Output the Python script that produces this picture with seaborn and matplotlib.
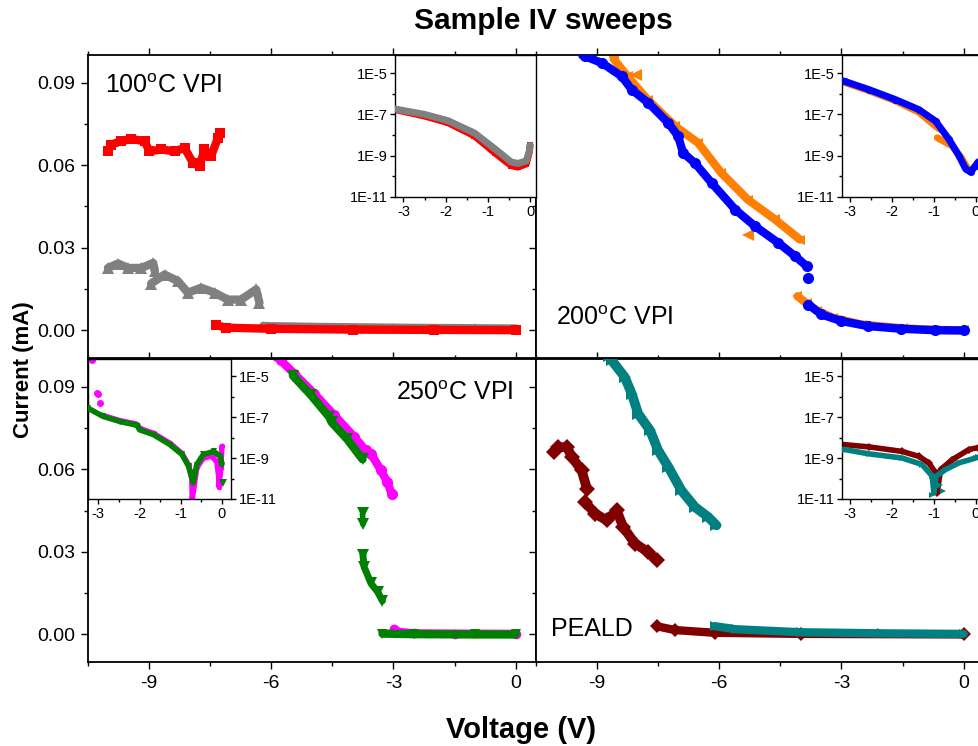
import matplotlib
matplotlib.use("Agg")
import matplotlib.pyplot as plt
from matplotlib.ticker import FixedLocator, FuncFormatter, NullFormatter
import seaborn as sns
import numpy as np
import pandas as pd

# ---------------- 100oC VPI (top left) ----------------
v100_red_hi_v = [-10.01, -9.93, -9.68, -9.44, -9.11, -8.99, -8.70, -8.37, -8.13, -7.92, -7.76, -7.64, -7.48, -7.31, -7.25]
v100_red_hi_i = [0.0650, 0.0675, 0.0687, 0.0695, 0.0687, 0.0650, 0.0657, 0.0650, 0.0663, 0.0608, 0.0596, 0.0657, 0.0632, 0.0699, 0.0717]
v100_red_lo_v = [-7.35, -7.10, -6.0, -4.0, -2.0, 0.0]
v100_red_lo_i = [0.0019, 0.0010, 0.0006, 0.0003, 0.0002, 0.0001]
v100_gray_a_v = [-10.01, -9.76, -9.52, -9.19, -8.90, -8.86]
v100_gray_a_i = [0.0227, 0.0243, 0.0227, 0.0227, 0.0245, 0.0215]
v100_gray_b_v = [-8.95, -8.62, -8.29, -8.05, -7.72, -7.39, -7.07, -6.74, -6.37, -6.29]
v100_gray_b_i = [0.0170, 0.0203, 0.0179, 0.0137, 0.0155, 0.0137, 0.0112, 0.0112, 0.0149, 0.0100]
v100_gray_lo_v = [-6.2, -5.0, -3.0, -1.0, 0.0]
v100_gray_lo_i = [0.0016, 0.0013, 0.0010, 0.0008, 0.0007]
# inset (log)
v100_in_red_v = [-3.25, -2.50, -1.95, -1.32, -0.84, -0.45, -0.29, -0.09, -0.02, 0.0]
v100_in_red_i = [1.8e-7, 8.3e-8, 4.0e-8, 9.1e-9, 1.4e-9, 3.3e-10, 2.8e-10, 4.0e-10, 1.4e-9, 3.2e-9]
v100_in_gray_v = [-3.25, -2.50, -1.95, -1.32, -0.84, -0.45, -0.29, -0.09, -0.02, 0.0]
v100_in_gray_i = [1.9e-7, 1.0e-7, 5.0e-8, 1.26e-8, 2.2e-9, 5.0e-10, 4.2e-10, 5.6e-10, 1.6e-9, 3.2e-9]

# ---------------- 200oC VPI (top right) ----------------
v200_blue_hi_v = [-9.35, -9.29, -8.88, -8.39, -8.15, -7.74, -7.25, -7.01, -6.89, -6.60, -6.19, -5.61, -5.12, -4.55, -4.14, -3.85]
v200_blue_hi_i = [0.1005, 0.0995, 0.0971, 0.0922, 0.0874, 0.0826, 0.0753, 0.0705, 0.0645, 0.0608, 0.0536, 0.0439, 0.0378, 0.0318, 0.0270, 0.0233]
v200_blue_pt_v = [-3.81]
v200_blue_pt_i = [0.0189]
v200_blue_lo_v = [-3.81, -3.49, -3.00, -2.35, -1.53, -0.71, 0.0]
v200_blue_lo_i = [0.0094, 0.0058, 0.0034, 0.0016, 0.0006, 0.0001, 0.0]
v200_orange_hi_v = [-8.62, -8.58, -8.25, -7.76, -7.08, -6.52, -5.95, -5.30, -4.63, -4.02]
v200_orange_hi_i = [0.1005, 0.0983, 0.0922, 0.0838, 0.0741, 0.0681, 0.0572, 0.0475, 0.0403, 0.0330]
v200_orange_out_v = [-8.05, -5.30]
v200_orange_out_i = [0.0929, 0.0348]
v200_orange_lo_v = [-4.08, -3.85, -3.60, -3.20, -2.50, -1.50, -0.70, 0.0]
v200_orange_lo_i = [0.0124, 0.0098, 0.0072, 0.0046, 0.0021, 0.0008, 0.0002, 0.0]
# inset (log)
v200_in_blue_v = [-3.25, -3.14, -2.56, -1.92, -1.36, -0.96, -0.64, -0.40, -0.24, -0.12, 0.0, 0.06]
v200_in_blue_i = [4.5e-6, 4.0e-6, 1.6e-6, 5.2e-7, 1.7e-7, 4.7e-8, 6.2e-9, 1.0e-9, 2.3e-10, 1.6e-10, 3.3e-10, 5.0e-10]
v200_in_orange_a_v = [-3.25, -2.56, -1.92, -1.36, -0.96, -0.86]
v200_in_orange_a_i = [4.2e-6, 1.4e-6, 4.5e-7, 1.26e-7, 2.7e-8, 1.9e-8]
v200_in_orange_b_v = [-0.92, -0.56, -0.32, -0.20, -0.10, 0.07]
v200_in_orange_b_i = [7.4e-9, 2.95e-9, 6.8e-10, 2.5e-10, 2.0e-10, 5.0e-10]

# ---------------- 250oC VPI (bottom left) ----------------
v250_mag_hi_v = [-5.85, -5.77, -5.43, -4.94, -4.45, -3.96, -3.68, -3.55, -3.31, -3.15, -3.04]
v250_mag_hi_i = [0.1010, 0.0995, 0.0946, 0.0874, 0.0795, 0.0717, 0.0668, 0.0656, 0.0596, 0.0553, 0.0509]
v250_mag_lo_v = [-2.98, -2.90, -2.50, -1.50, 0.0]
v250_mag_lo_i = [0.0020, 0.0010, 0.0004, 0.0003, 0.0002]
v250_grn_hi_v = [-5.47, -5.02, -4.58, -4.52, -4.13, -3.76]
v250_grn_hi_i = [0.0940, 0.0868, 0.0790, 0.0771, 0.0708, 0.0636]
v250_grn_mid_v = [-3.76, -3.75]
v250_grn_mid_i = [0.0440, 0.0400]
v250_grn_tail_v = [-3.75, -3.72, -3.55, -3.39, -3.27]
v250_grn_tail_i = [0.0290, 0.0245, 0.0185, 0.0155, 0.0122]
v250_grn_lo_v = [-3.27, -2.50, -1.00, 0.0]
v250_grn_lo_i = [0.0003, 0.0001, 0.0, 0.0]
# inset (log)
v250_in_grn_v = [-3.25, -2.88, -2.47, -2.11, -2.05, -2.00, -1.66, -1.26, -0.97, -0.81, -0.73, -0.70, -0.61, -0.45, -0.20, -0.04, 0.0]
v250_in_grn_i = [2.7e-7, 1.07e-7, 6.0e-8, 4.2e-8, 3.8e-8, 2.4e-8, 1.38e-8, 4.5e-9, 1.5e-9, 4.0e-10, 1.07e-10, 6.3e-11, 4.8e-10, 1.5e-9, 2.1e-9, 1.2e-9, 4.8e-10]
v250_in_grn_out_v = [0.02]
v250_in_grn_out_i = [6.3e-11]
v250_in_mag_v = [-2.90, -2.47, -2.11, -2.05, -2.00, -1.66, -1.26, -0.97, -0.81, -0.73, -0.72, -0.61, -0.45, -0.25, -0.12, -0.08, -0.07, -0.03, 0.0]
v250_in_mag_i = [1.2e-7, 6.6e-8, 4.7e-8, 4.2e-8, 2.8e-8, 1.6e-8, 5.2e-9, 1.66e-9, 4.5e-10, 1.0e-10, 1.0e-11, 3.5e-10, 1.0e-9, 1.26e-9, 6.3e-10, 1.3e-10, 4.0e-11, 3.2e-10, 3.7e-9]
v250_in_mag_out_v = [-3.16, -3.04, -3.00, -2.95]
v250_in_mag_out_i = [6.0e-5, 1.45e-6, 1.3e-6, 4.7e-7]

# ---------------- PEALD (bottom right) ----------------
vpe_mar_a_v = [-10.07, -9.95, -9.74, -9.62, -9.38, -9.25]
vpe_mar_a_i = [0.0662, 0.0680, 0.0680, 0.0644, 0.0596, 0.0529]
vpe_mar_b_v = [-9.30, -9.05, -8.76, -8.52, -8.36, -8.07, -7.75, -7.54]
vpe_mar_b_i = [0.0481, 0.0439, 0.0414, 0.0451, 0.0390, 0.0330, 0.0300, 0.0269]
vpe_mar_lo_v = [-7.54, -7.09, -6.11, -4.00, 0.0]
vpe_mar_lo_i = [0.0030, 0.0016, 0.0006, 0.0002, 0.0]
vpe_teal_hi_v = [-8.70, -8.64, -8.32, -8.15, -7.99, -7.70, -7.50, -7.25, -6.93, -6.60, -6.27, -6.07]
vpe_teal_hi_i = [0.1010, 0.0995, 0.0934, 0.0874, 0.0801, 0.0741, 0.0668, 0.0608, 0.0523, 0.0463, 0.0426, 0.0396]
vpe_teal_lo_v = [-6.11, -5.60, -4.00, -2.00, 0.0]
vpe_teal_lo_i = [0.0030, 0.0019, 0.0008, 0.0004, 0.0002]
# inset (log)
vpe_in_mar_v = [-3.25, -2.56, -1.76, -1.36, -1.12, -0.96, -0.92, -0.84, -0.56, -0.16, 0.05]
vpe_in_mar_i = [4.7e-9, 3.5e-9, 2.1e-9, 1.2e-9, 5.8e-10, 1.9e-10, 2.0e-11, 2.75e-10, 8.3e-10, 2.6e-9, 3.2e-9]
vpe_in_teal_v = [-3.25, -3.14, -2.56, -1.76, -1.28, -1.04, -1.00, -0.95, -0.72, -0.40, 0.0, 0.05]
vpe_in_teal_i = [2.7e-9, 2.6e-9, 1.6e-9, 1.0e-9, 4.8e-10, 1.3e-10, 2.0e-11, 1.26e-10, 2.75e-10, 5.8e-10, 1.0e-9, 1.1e-9]
vpe_in_teal_out_v = [-1.05, -0.92, -0.85, -0.78]
vpe_in_teal_out_i = [1.6e-11, 4.0e-11, 5.0e-11, 2.5e-11]

RED, GRAY, ORANGE, BLUE = "#FF0000", "#808080", "#FF8000", "#0000FF"
MAGENTA, GREEN, MAROON, TEAL = "#FF00FF", "#008000", "#800000", "#008080"

sns.set_style("ticks")
plt.rcParams["font.family"] = ["Liberation Sans", "DejaVu Sans"]
plt.rcParams["mathtext.default"] = "regular"
plt.rcParams["axes.unicode_minus"] = False
plt.rcParams["text.color"] = "black"
plt.rcParams["axes.labelcolor"] = "black"
plt.rcParams["xtick.color"] = "black"
plt.rcParams["ytick.color"] = "black"

W, H = 979, 746
fig = plt.figure(figsize=(W / 100, H / 100), dpi=100)


def px_axes(x0, y0, x1, y1):
    return fig.add_axes([x0 / W, 1 - y1 / H, (x1 - x0) / W, (y1 - y0) / H])


def draw(ax, v, i, color, marker, ms=7, lw=6, z=2):
    df = pd.DataFrame({"V": v, "I": i})
    sns.lineplot(data=df, x="V", y="I", sort=False, estimator=None, color=color,
                 marker=marker, markersize=ms, markeredgewidth=0, linewidth=lw,
                 solid_capstyle="round", ax=ax, zorder=z)


def style_main(ax, left_lab, bottom_lab):
    ax.set_xlim(-10.5, 0.5)
    ax.set_ylim(-0.01, 0.1)
    ax.xaxis.set_major_locator(FixedLocator([-9, -6, -3, 0]))
    ax.xaxis.set_minor_locator(FixedLocator([-10.5, -7.5, -4.5, -1.5]))
    ax.yaxis.set_major_locator(FixedLocator([0, 0.03, 0.06, 0.09]))
    ax.yaxis.set_minor_locator(FixedLocator([0.015, 0.045, 0.075]))
    ax.yaxis.set_major_formatter(FuncFormatter(lambda v, p: f"{v:.2f}"))
    ax.tick_params(which="both", direction="out", top=True, right=True,
                   labelsize=14, width=1, color="black", labelcolor="black", pad=4)
    ax.tick_params(which="major", length=5)
    ax.tick_params(which="minor", length=3)
    ax.tick_params(labelleft=left_lab, labelbottom=bottom_lab)
    ax.set_xlabel("")
    ax.set_ylabel("")
    for s in ax.spines.values():
        s.set_linewidth(1.3)
        s.set_color("black")


def style_inset(ax, xlim, ylim, right=False):
    ax.set_yscale("log")
    ax.set_xlim(*xlim)
    ax.set_ylim(*ylim)
    ax.xaxis.set_major_locator(FixedLocator([-3, -2, -1, 0]))
    ax.xaxis.set_minor_locator(FixedLocator([-2.5, -1.5, -0.5]))
    ax.yaxis.set_major_locator(FixedLocator([1e-11, 1e-9, 1e-7, 1e-5]))
    ax.yaxis.set_minor_locator(FixedLocator([1e-10, 1e-8, 1e-6]))
    ax.yaxis.set_major_formatter(FuncFormatter(lambda v, p: f"1E{int(round(np.log10(v)))}"))
    ax.yaxis.set_minor_formatter(NullFormatter())
    ax.tick_params(which="both", direction="out", labelsize=10.5, width=1, pad=2,
                   color="black", labelcolor="black")
    ax.tick_params(which="major", length=3.5)
    ax.tick_params(which="minor", length=2)
    if right:
        ax.yaxis.tick_right()
    ax.set_xlabel("")
    ax.set_ylabel("")
    for s in ax.spines.values():
        s.set_linewidth(1.0)
        s.set_color("black")


# main panels
ax_tl = px_axes(88, 55, 536, 358)
ax_tr = px_axes(536, 55, 984, 358)
ax_bl = px_axes(88, 359, 536, 662)
ax_br = px_axes(536, 359, 984, 662)

draw(ax_tl, v100_gray_a_v, v100_gray_a_i, GRAY, "^", ms=8)
draw(ax_tl, v100_gray_b_v, v100_gray_b_i, GRAY, "^", ms=8)
draw(ax_tl, v100_gray_lo_v, v100_gray_lo_i, GRAY, "^")
draw(ax_tl, v100_red_hi_v, v100_red_hi_i, RED, "s", z=3)
draw(ax_tl, v100_red_lo_v, v100_red_lo_i, RED, "s", z=3)

draw(ax_tr, v200_orange_hi_v, v200_orange_hi_i, ORANGE, "<")
draw(ax_tr, v200_orange_out_v, v200_orange_out_i, ORANGE, "<", ms=9, lw=0)
draw(ax_tr, v200_orange_lo_v, v200_orange_lo_i, ORANGE, "<")
draw(ax_tr, v200_blue_hi_v, v200_blue_hi_i, BLUE, "o", ms=8, z=3)
draw(ax_tr, v200_blue_pt_v, v200_blue_pt_i, BLUE, "o", ms=8, lw=0, z=3)
draw(ax_tr, v200_blue_lo_v, v200_blue_lo_i, BLUE, "o", ms=8, z=3)

draw(ax_bl, v250_mag_hi_v, v250_mag_hi_i, MAGENTA, "o", ms=8)
draw(ax_bl, v250_mag_lo_v, v250_mag_lo_i, MAGENTA, "o")
draw(ax_bl, v250_grn_hi_v, v250_grn_hi_i, GREEN, "v", ms=8, z=3)
draw(ax_bl, v250_grn_mid_v, v250_grn_mid_i, GREEN, "v", ms=8, lw=4, z=3)
draw(ax_bl, v250_grn_tail_v, v250_grn_tail_i, GREEN, "v", ms=8, lw=5, z=3)
draw(ax_bl, v250_grn_lo_v, v250_grn_lo_i, GREEN, "v", z=3)

draw(ax_br, vpe_mar_a_v, vpe_mar_a_i, MAROON, "D", ms=8, lw=7)
draw(ax_br, vpe_mar_b_v, vpe_mar_b_i, MAROON, "D", ms=8, lw=7)
draw(ax_br, vpe_mar_lo_v, vpe_mar_lo_i, MAROON, "D")
draw(ax_br, vpe_teal_hi_v, vpe_teal_hi_i, TEAL, ">", ms=8, lw=7, z=3)
draw(ax_br, vpe_teal_lo_v, vpe_teal_lo_i, TEAL, ">", z=3)

style_main(ax_tl, True, False)
style_main(ax_tr, False, False)
style_main(ax_bl, True, True)
style_main(ax_br, False, True)

label_kw = dict(fontsize=18, va="center", color="black")
ax_tl.text(0.038, 0.898, "100$^{o}$C VPI", transform=ax_tl.transAxes, ha="left", **label_kw)
ax_tr.text(0.045, 0.132, "200$^{o}$C VPI", transform=ax_tr.transAxes, ha="left", **label_kw)
ax_bl.text(0.949, 0.888, "250$^{o}$C VPI", transform=ax_bl.transAxes, ha="right", **label_kw)
ax_br.text(0.033, 0.109, "PEALD", transform=ax_br.transAxes, ha="left", **label_kw)

# insets
in_tl = px_axes(395, 55, 536, 197)
draw(in_tl, v100_in_red_v, v100_in_red_i, RED, "s", ms=5, lw=5)
draw(in_tl, v100_in_gray_v, v100_in_gray_i, GRAY, "^", ms=5, lw=5, z=3)
style_inset(in_tl, (-3.2, 0.14), (1e-11, 7.5e-5))

in_tr = px_axes(842, 55, 984, 197)
draw(in_tr, v200_in_orange_a_v, v200_in_orange_a_i, ORANGE, "<", ms=5, lw=5)
draw(in_tr, v200_in_orange_b_v, v200_in_orange_b_i, ORANGE, "<", ms=5, lw=5)
draw(in_tr, v200_in_blue_v, v200_in_blue_i, BLUE, "o", ms=5, lw=5, z=3)
style_inset(in_tr, (-3.2, 0.2), (1e-11, 7.5e-5))

in_bl = px_axes(88, 359, 231, 499)
draw(in_bl, v250_in_mag_v, v250_in_mag_i, MAGENTA, "o", ms=4, lw=4)
draw(in_bl, v250_in_mag_out_v, v250_in_mag_out_i, MAGENTA, "o", ms=5, lw=0)
draw(in_bl, v250_in_grn_v, v250_in_grn_i, GREEN, "v", ms=5, lw=4, z=3)
draw(in_bl, v250_in_grn_out_v, v250_in_grn_out_i, GREEN, "v", ms=6, lw=0, z=3)
style_inset(in_bl, (-3.25, 0.22), (1e-11, 6.8e-5), right=True)

in_br = px_axes(842, 359, 984, 499)
draw(in_br, vpe_in_mar_v, vpe_in_mar_i, MAROON, "D", ms=4, lw=4)
draw(in_br, vpe_in_teal_v, vpe_in_teal_i, TEAL, ">", ms=5, lw=4, z=3)
draw(in_br, vpe_in_teal_out_v, vpe_in_teal_out_i, TEAL, ">", ms=5, lw=0, z=3)
style_inset(in_br, (-3.2, 0.2), (1e-11, 6.8e-5))

fig.text(543 / W, 1 - 21 / H, "Sample IV sweeps", ha="center", va="center",
         fontsize=21.5, fontweight="bold", color="black")
fig.text(24 / W, 1 - 370 / H, "Current (mA)", ha="center", va="center",
         rotation=90, fontsize=16, fontweight="bold", color="black")
fig.text(521 / W, 1 - 730 / H, "Voltage (V)", ha="center", va="center",
         fontsize=21, fontweight="bold", color="black")

fig.savefig("out.png", dpi=100)
